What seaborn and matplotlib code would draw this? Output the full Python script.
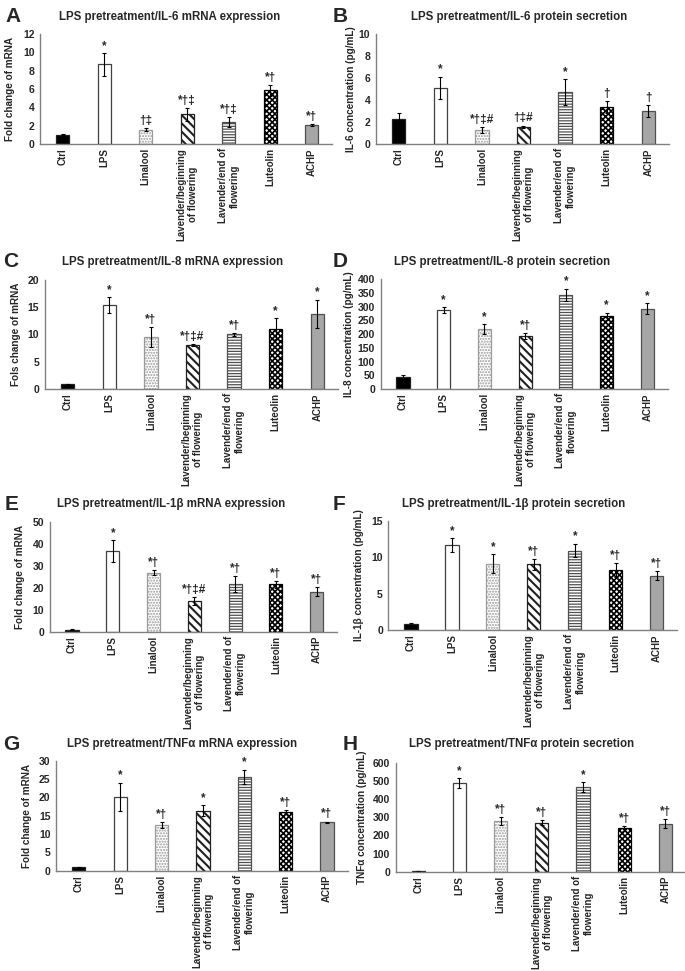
import numpy as np
import pandas as pd
import seaborn as sns
import matplotlib
matplotlib.use("Agg")
import matplotlib.pyplot as plt

sns.set_style("white")
plt.rcParams['font.family'] = ['Liberation Sans', 'DejaVu Sans']
plt.rcParams['font.weight'] = 'bold'
plt.rcParams['hatch.linewidth'] = 1.0

groups = ["Ctrl", "LPS", "Linalool", "Lavender/beginning\nof flowering",
          "Lavender/end of\nflowering", "Luteolin", "ACHP"]

# values, errors and significance marks
il6_mrna = [1.0, 8.7, 1.55, 3.25, 2.35, 5.85, 2.05]
il6_mrna_err = [0.05, 1.25, 0.15, 0.72, 0.55, 0.6, 0.1]
il6_mrna_sig = ["", "*", "†‡", "*†‡", "*†‡", "*†", "*†"]

il6_prot = [2.27, 5.12, 1.24, 1.58, 4.7, 3.33, 3.0]
il6_prot_err = [0.52, 1.0, 0.27, 0.1, 1.2, 0.55, 0.56]
il6_prot_sig = ["", "*", "*†‡#", "†‡#", "*", "†", "†"]

il8_mrna = [0.9, 15.4, 9.5, 8.1, 10.0, 11.1, 13.8]
il8_mrna_err = [0.1, 1.4, 1.8, 0.2, 0.3, 1.85, 2.6]
il8_mrna_sig = ["", "*", "*†", "*†‡#", "*†", "*", "*"]

il8_prot = [43, 287, 218, 193, 343, 265, 291]
il8_prot_err = [9, 12, 18, 10, 22, 13, 20]
il8_prot_sig = ["", "*", "*", "*†", "*", "*", "*"]

il1b_mrna = [0.9, 36.6, 26.8, 14.1, 21.7, 21.5, 18.2]
il1b_mrna_err = [0.2, 5.0, 1.1, 1.8, 3.6, 1.6, 2.1]
il1b_mrna_sig = ["", "*", "*†", "*†‡#", "*†", "*†", "*†"]

il1b_prot = [0.8, 11.65, 9.1, 9.0, 10.9, 8.2, 7.45]
il1b_prot_err = [0.1, 1.0, 1.3, 0.7, 0.95, 0.95, 0.65]
il1b_prot_sig = ["", "*", "*", "*†", "*", "*†", "*†"]

tnf_mrna = [0.9, 20.2, 12.45, 16.3, 25.6, 16.0, 13.2]
tnf_mrna_err = [0.1, 3.8, 0.9, 1.5, 2.0, 0.6, 0.2]
tnf_mrna_sig = ["", "*", "*†", "*", "*", "*†", "*†"]

tnf_prot = [3, 488, 280, 270, 466, 238, 265]
tnf_prot_err = [1, 28, 21, 12, 29, 15, 23]
tnf_prot_sig = ["", "*", "*†", "*†", "*", "*†", "*†"]

fills = ["black", "white", "white", "white", "white", "white", "#a6a6a6"]
edges = ["#202020", "#404040", "#9a9a9a", "#202020", "#505050", "black", "#505050"]
hatches = [None, None, "......", "\\\\\\\\", "------", "xxxxxx", None]
hatch_lw = [1.0, 1.0, 1.0, 1.5, 0.9, 1.2, 1.0]

# panel layout in pixels: letter, title, ylabel, ymax, ystep,
# first/last bar centre, axis top/bottom, title centre (x, y), ylabel x
panels = [
    ("A", "LPS pretreatment/IL-6 mRNA expression", "Fold change of mRNA",
     il6_mrna, il6_mrna_err, il6_mrna_sig, 12, 2, 62.8, 311.7, 34, 144, 170, 17, 15, (5, 7)),
    ("B", "LPS pretreatment/IL-6 protein secretion", "IL-6 concentration (pg/mL)",
     il6_prot, il6_prot_err, il6_prot_sig, 10, 2, 398.7, 648.3, 34, 144, 519, 17, 356, (333, 7)),
    ("C", "LPS pretreatment/IL-8 mRNA expression", "Fols change of mRNA",
     il8_mrna, il8_mrna_err, il8_mrna_sig, 20, 5, 67.8, 317.3, 280, 389, 173, 262, 21, (3, 252)),
    ("D", "LPS pretreatment/IL-8 protein secretion", "IL-8 concentration (pg/mL)",
     il8_prot, il8_prot_err, il8_prot_sig, 400, 50, 403, 647.3, 279, 389, 502, 262, 354, (333, 252)),
    ("E", "LPS pretreatment/IL-1β mRNA expression", "Fold change of mRNA",
     il1b_mrna, il1b_mrna_err, il1b_mrna_sig, 50, 10, 72, 316.7, 521.7, 631.7, 171, 504, 25, (5, 495)),
    ("F", "LPS pretreatment/IL-1β protein secretion", "IL-1β concentration (pg/mL)",
     il1b_prot, il1b_prot_err, il1b_prot_sig, 15, 5, 411, 656.7, 520.7, 630, 514, 504, 364, (333, 495)),
    ("G", "LPS pretreatment/TNFα mRNA expression", "Fold change of mRNA",
     tnf_mrna, tnf_mrna_err, tnf_mrna_sig, 30, 5, 78.8, 327, 760.7, 870.7, 182, 744, 32, (3, 735)),
    ("H", "LPS pretreatment/TNFα protein secretion", "TNFα concentration (pg/mL)",
     tnf_prot, tnf_prot_err, tnf_prot_sig, 600, 100, 418.3, 665.3, 762.7, 871.7, 522, 744, 367, (343, 735)),
]

W, H = 685, 971
fig = plt.figure(figsize=(W / 100, H / 100), dpi=100)

for (letter, title, ylab, vals, errs, sigs, ymax, ystep,
     c0, c6, top, bot, tx, ty, ylx, lpos) in panels:
    s = (c6 - c0) / 6
    left = c0 - 0.55 * s
    right = c6 + 0.5 * s
    ax = fig.add_axes([left / W, 1 - bot / H, (right - left) / W, (bot - top) / H])
    df = pd.DataFrame({"group": groups, "value": vals})
    sns.barplot(data=df, x="group", y="value", hue="group", palette=fills,
                width=0.32, errorbar=None, legend=False, ax=ax, linewidth=0.9)
    for i, p in enumerate(ax.patches[:7]):
        p.set_edgecolor(edges[i])
        if hatches[i]:
            p.set_hatch(hatches[i])
            try:
                p.set_hatch_linewidth(hatch_lw[i])
            except AttributeError:
                pass
    ax.errorbar(range(7), vals, yerr=errs, fmt="none", ecolor="black",
                elinewidth=0.8, capsize=1.6, capthick=0.8)
    for i, t in enumerate(sigs):
        if t:
            ax.text(i, vals[i] + errs[i] + ymax * 0.01, t, ha="center", va="bottom",
                    fontsize=8.5, fontweight="bold")
    ax.set_xlim(-0.55, 6.5)
    ax.set_ylim(0, ymax)
    ax.set_yticks(np.arange(0, ymax + ystep / 2, ystep))
    ax.set_xlabel("")
    ax.set_ylabel(ylab, fontsize=7.2, fontweight="bold")
    ax.yaxis.set_label_coords((ylx - left) / (right - left), 0.5)
    ax.tick_params(axis="x", length=0, labelsize=7, labelrotation=90, pad=3)
    ax.tick_params(axis="y", length=2.5, width=0.8, color="#808080", labelsize=7.5, pad=1.5)
    for lab in ax.get_xticklabels() + ax.get_yticklabels():
        lab.set_fontweight("bold")
    for lab in ax.get_xticklabels():
        lab.set_verticalalignment("top")
        lab.set_multialignment("center")
    sns.despine(ax=ax)
    for sp in ("left", "bottom"):
        ax.spines[sp].set_color("#808080")
        ax.spines[sp].set_linewidth(1.0)
    fig.text(tx / W, 1 - ty / H, title, ha="center", va="center",
             fontsize=8.3, fontweight="bold")
    fig.text(lpos[0] / W, 1 - lpos[1] / H, letter, ha="left", va="top",
             fontsize=15, fontweight="bold")

fig.savefig("out.png", dpi=100)
